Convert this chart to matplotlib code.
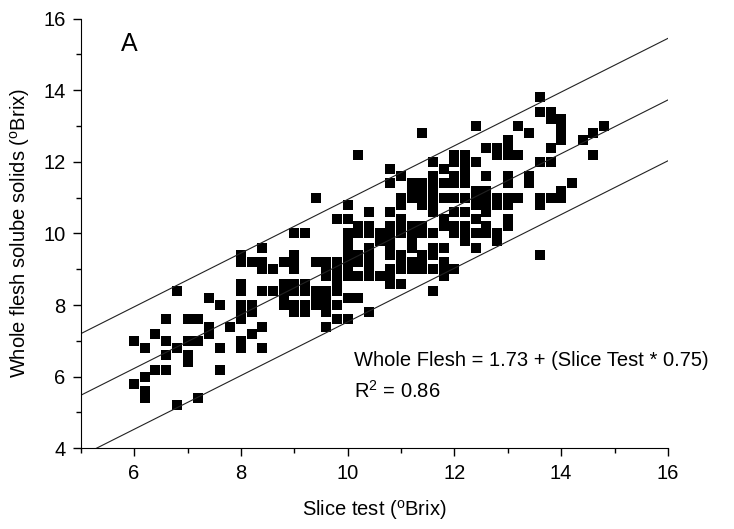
import matplotlib.pyplot as plt
import numpy as np
from matplotlib.ticker import MultipleLocator

plt.rcParams['font.family'] = ['Liberation Sans', 'DejaVu Sans']
plt.rcParams['mathtext.fontset'] = 'custom'
plt.rcParams['mathtext.rm'] = 'Liberation Sans'

# slice test reading (oBrix) and the whole flesh readings found at it
slice_test = [6.0, 6.2, 6.4, 6.6, 6.8, 7.0, 7.2, 7.4, 7.6, 7.8,
              8.0, 8.2, 8.4, 8.6, 8.8, 9.0, 9.2, 9.4, 9.6, 9.8,
              10.0, 10.2, 10.4, 10.6, 10.8, 11.0, 11.2, 11.4, 11.6, 11.8,
              12.0, 12.2, 12.4, 12.6, 12.8, 13.0, 13.2, 13.4, 13.6, 13.8,
              14.0, 14.2, 14.4, 14.6, 14.8]
whole_flesh = [
    [7.0, 5.8],
    [6.8, 6.0, 5.6, 5.4],
    [7.2, 6.2],
    [7.6, 7.0, 6.6, 6.2],
    [8.4, 6.8, 5.2],
    [7.6, 7.0, 6.6, 6.4],
    [7.6, 7.0, 5.4],
    [8.2, 7.4, 7.2],
    [8.0, 6.8, 6.2],
    [7.4],
    [9.4, 9.2, 8.6, 8.4, 8.0, 7.8, 7.6, 7.0, 6.8],
    [9.2, 8.0, 7.8, 7.2],
    [9.6, 9.2, 9.0, 8.4, 7.4, 6.8],
    [9.0, 8.4],
    [9.2, 8.6, 8.4, 8.2, 8.0],
    [10.0, 9.4, 9.2, 9.0, 8.6, 8.4, 8.0, 7.8],
    [10.0, 8.6, 8.4, 8.0, 7.8],
    [11.0, 9.2, 8.4, 8.2, 8.0],
    [9.2, 9.0, 8.8, 8.4, 8.2, 8.0, 7.8, 7.4],
    [10.4, 9.2, 9.0, 8.8, 8.6, 8.4, 8.0, 7.6],
    [10.8, 10.4, 10.0, 9.8, 9.6, 9.4, 9.2, 9.0, 8.8, 8.2, 7.6],
    [12.2, 10.2, 10.0, 9.4, 9.2, 8.8, 8.2],
    [10.6, 10.2, 10.0, 9.6, 9.4, 9.2, 9.0, 8.8, 7.8],
    [10.0, 9.8, 8.8],
    [11.8, 11.4, 10.6, 10.2, 10.0, 9.8, 9.6, 9.4, 9.0, 8.8, 8.6],
    [11.6, 11.0, 10.8, 10.4, 10.2, 10.0, 9.4, 9.2, 9.0, 8.6],
    [11.4, 11.2, 11.0, 10.2, 10.0, 9.8, 9.6, 9.2, 9.0],
    [12.8, 11.4, 11.2, 11.0, 10.8, 10.2, 10.0, 9.4, 9.2, 9.0],
    [12.0, 11.6, 11.4, 11.2, 11.0, 10.8, 10.6, 10.0, 9.6, 9.4, 9.0, 8.4],
    [11.8, 11.4, 11.0, 10.4, 10.2, 9.6, 9.2, 9.0, 8.8],
    [12.2, 12.0, 11.6, 11.4, 11.0, 10.6, 10.2, 10.0, 9.0],
    [12.2, 12.0, 11.8, 11.6, 11.4, 11.0, 10.6, 10.2, 10.0, 9.8],
    [13.0, 12.0, 11.2, 11.0, 10.8, 10.4, 10.0, 9.6],
    [12.4, 11.6, 11.2, 11.0, 10.8, 10.6, 10.2, 10.0],
    [12.4, 12.2, 11.0, 10.8, 10.0, 9.8],
    [12.6, 12.4, 12.2, 11.6, 11.4, 11.0, 10.8, 10.4, 10.2],
    [13.0, 12.2, 11.0],
    [12.8, 11.6, 11.4],
    [13.8, 13.4, 12.0, 11.0, 10.8, 9.4],
    [13.4, 13.2, 12.4, 12.0, 11.0],
    [13.2, 13.0, 12.8, 12.6, 11.2, 11.0],
    [11.4],
    [12.6],
    [12.8, 12.2],
    [13.0],
]

# regression and the band either side of it
intercept = 1.73
slope = 0.75
band = [1.72, 0.0, -1.7]

x = np.repeat(slice_test, [len(v) for v in whole_flesh])
y = np.concatenate(whole_flesh)

fig = plt.figure(figsize=(7.34, 5.29), dpi=100)
ax = fig.add_axes([0.110, 0.1526, 0.800, 0.8121])

ax.plot(x, y, 's', color='black', markersize=6.8, markeredgewidth=0, clip_on=False)

xl = np.array([5, 16])
for off in band:
    ax.plot(xl, intercept + slope * xl + off, color='#222222', lw=0.8)

ax.set_xlim(5, 16)
ax.set_ylim(4, 16)
ax.xaxis.set_major_locator(MultipleLocator(2))
ax.xaxis.set_minor_locator(MultipleLocator(1))
ax.yaxis.set_major_locator(MultipleLocator(2))
ax.yaxis.set_minor_locator(MultipleLocator(1))
ax.tick_params(which='major', direction='out', length=6, width=1, labelsize=14.5, pad=5)
ax.tick_params(which='minor', direction='out', length=3.5, width=1)
ax.spines['top'].set_visible(False)
ax.spines['right'].set_visible(False)

ax.set_xlabel('Slice test ($^{\\mathrm{o}}$Brix)', fontsize=14.5, labelpad=11)
ax.set_ylabel('Whole flesh solube solids ($^{\\mathrm{o}}$Brix)', fontsize=14.5, labelpad=8)

ax.text(10.12, 6.45, 'Whole Flesh = 1.73 + (Slice Test * 0.75)', fontsize=14.5, va='center')
ax.text(10.12, 5.6, 'R$^{2}$ = 0.86', fontsize=14.5, va='center')
ax.text(5.75, 15.3, 'A', fontsize=18, va='center')

fig.savefig('out.png', dpi=100)
